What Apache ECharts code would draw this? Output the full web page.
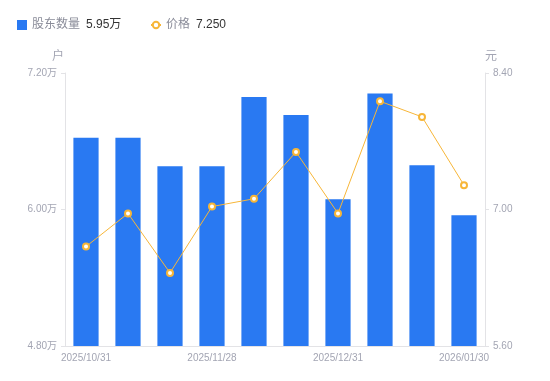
<!DOCTYPE html>
<html><head><meta charset="utf-8">
<script src="https://cdn.jsdelivr.net/npm/echarts@6/dist/echarts.min.js"></script>
<style>html,body{margin:0;padding:0;background:#fff}#c{width:550px;height:381px}</style>
</head><body><div id="c"></div>
<script>
const categories = ['2025/10/31','2025/11/10','2025/11/20','2025/11/28','2025/12/10','2025/12/19','2025/12/31','2026/01/09','2026/01/20','2026/01/30'];
const holders = [6.63, 6.63, 6.38, 6.38, 6.99, 6.83, 6.09, 7.02, 6.39, 5.95]; // 万户
const prices = [6.62, 6.96, 6.35, 7.03, 7.11, 7.59, 6.96, 8.11, 7.95, 7.25];
const leftTicks = {min: 4.8, max: 7.2, interval: 1.2};
const rightTicks = {min: 5.6, max: 8.4, interval: 1.4};
const latestHolder = '5.95万';
const latestPrice = '7.250';

const chart = echarts.init(document.getElementById('c'));
const font = '"Liberation Sans", "Noto Sans CJK SC", sans-serif';
const legendText = {
  rich: {
    n: {color: '#8a8c99', fontSize: 12, fontFamily: font, padding: [0, 6, 0, 0]},
    v: {color: '#333', fontSize: 12, fontFamily: font}
  }
};
chart.setOption({
  animation: false,
  textStyle: {fontFamily: font},
  legend: [{
    left: 12, top: 14,
    itemWidth: 10, itemHeight: 10,
    data: [{name: '股东数量', icon: 'rect'}],
    formatter: n => '{n|' + n + '}{v|' + latestHolder + '}',
    textStyle: legendText
  }, {
    left: 145, top: 14,
    itemWidth: 10, itemHeight: 8,
    data: [{name: '价格'}],
    formatter: n => '{n|' + n + '}{v|' + latestPrice + '}',
    textStyle: legendText
  }],
  grid: {left: 65, right: 65, top: 73, bottom: 35},
  xAxis: {
    type: 'category', data: categories,
    axisLine: {lineStyle: {color: '#e3e3e6'}},
    axisTick: {show: false},
    axisLabel: {interval: 2, color: '#a3a5b3', fontSize: 10, margin: 7}
  },
  yAxis: [{
    type: 'value', min: leftTicks.min, max: leftTicks.max, interval: leftTicks.interval,
    name: '户', nameGap: 10,
    nameTextStyle: {color: '#a3a5b3', fontSize: 12, align: 'right', padding: [0, 1, 0, 0]},
    axisLine: {show: true, lineStyle: {color: '#e3e3e6'}},
    axisTick: {show: true, length: 4, lineStyle: {color: '#e3e3e6'}},
    splitLine: {show: false},
    axisLabel: {color: '#a3a5b3', fontSize: 10, margin: 8, formatter: v => v.toFixed(2) + '万'}
  }, {
    type: 'value', min: rightTicks.min, max: rightTicks.max, interval: rightTicks.interval,
    name: '元', nameGap: 10,
    nameTextStyle: {color: '#a3a5b3', fontSize: 12, align: 'left', padding: [0, 0, 0, 0]},
    axisLine: {show: true, lineStyle: {color: '#e3e3e6'}},
    axisTick: {show: true, length: 4, lineStyle: {color: '#e3e3e6'}},
    splitLine: {show: false},
    axisLabel: {color: '#a3a5b3', fontSize: 10, margin: 8, formatter: v => v.toFixed(2)}
  }],
  series: [{
    name: '股东数量', type: 'bar', data: holders, barWidth: '60%',
    itemStyle: {color: '#2979f2'}
  }, {
    name: '价格', type: 'line', yAxisIndex: 1, data: prices,
    symbol: 'emptyCircle', symbolSize: 6,
    lineStyle: {color: '#f7b638', width: 1},
    itemStyle: {color: '#f7b638', borderWidth: 2}
  }]
});
</script></body></html>
